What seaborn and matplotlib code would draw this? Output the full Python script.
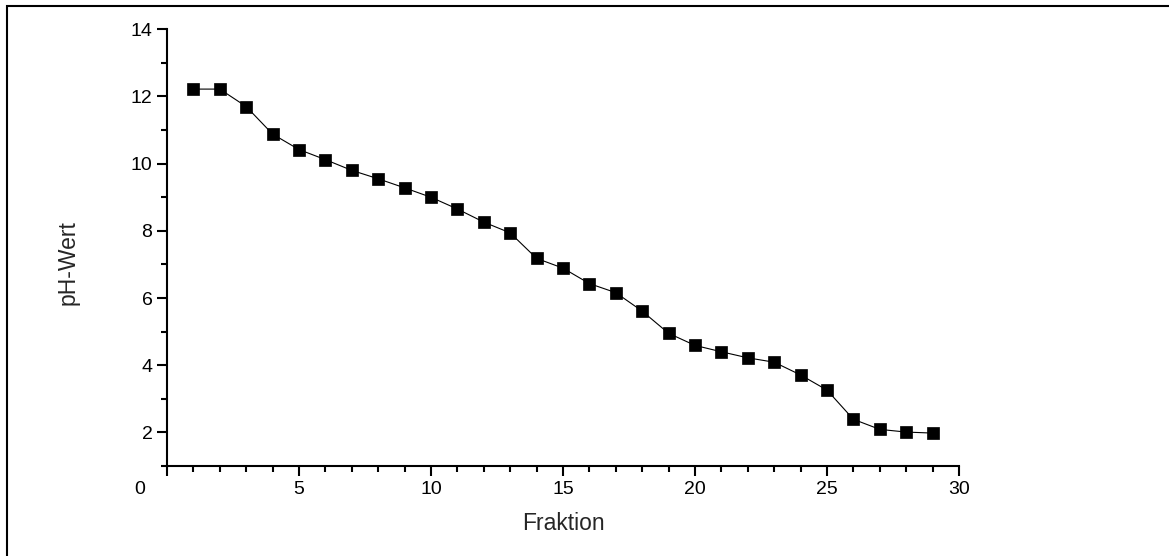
import matplotlib
matplotlib.use('Agg')
import matplotlib.pyplot as plt
import matplotlib.transforms as mtransforms
from matplotlib.patches import Rectangle
from matplotlib.ticker import MultipleLocator
import pandas as pd
import seaborn as sns

# pH value per fraction
fraktion = list(range(1, 30))
ph_wert = [12.22, 12.22, 11.70, 10.88, 10.42, 10.12, 9.80, 9.55, 9.28, 9.00,
           8.65, 8.26, 7.94, 7.18, 6.89, 6.43, 6.16, 5.61, 4.95, 4.59,
           4.40, 4.22, 4.09, 3.71, 3.26, 2.39, 2.09, 2.01, 1.98]

x_ticks = [0, 5, 10, 15, 20, 25, 30]
y_ticks = [2, 4, 6, 8, 10, 12, 14]

sns.set_style('ticks')
plt.rcParams['font.family'] = ['Liberation Sans', 'DejaVu Sans']

W, H = 1169, 556
fig = plt.figure(figsize=(W / 100, H / 100), dpi=100)
ax = fig.add_axes([167 / W, 1 - 466 / H, (959 - 167) / W, (466 - 29.3) / H])

df = pd.DataFrame({'Fraktion': fraktion, 'pH-Wert': ph_wert})
sns.lineplot(data=df, x='Fraktion', y='pH-Wert', ax=ax, color='black',
             linewidth=0.8, marker='s', markersize=8.5, markeredgewidth=0.5,
             markeredgecolor='black', markerfacecolor='black')

ax.set_xlim(0, 30)
ax.set_ylim(1, 14)
ax.set_xticks(x_ticks)
ax.set_yticks(y_ticks)
ax.xaxis.set_minor_locator(MultipleLocator(1))
ax.yaxis.set_minor_locator(MultipleLocator(1))

sns.despine(ax=ax)
for side in ['left', 'bottom']:
    ax.spines[side].set_linewidth(1.5)
    ax.spines[side].set_color('black')

ax.tick_params(which='major', direction='out', length=7.5, width=1.5,
               labelsize=14, colors='black', pad=3)
ax.tick_params(which='minor', direction='out', length=4.5, width=1.5,
               colors='black')

# shift the "0" label left like the original
offset = mtransforms.ScaledTranslation(-27 / 100, 0, fig.dpi_scale_trans)
first = ax.xaxis.get_majorticklabels()[0]
first.set_transform(first.get_transform() + offset)

ax.set_xlabel('')
ax.set_ylabel('')
fig.text(563 / W, 1 - 523 / H, 'Fraktion', ha='center', va='center', fontsize=16.5)
fig.text(68 / W, 1 - 263 / H, 'pH-Wert', ha='center', va='center',
         rotation=90, fontsize=16.5)

# outer frame (only top/left edges show in the picture)
fig.patches.append(Rectangle((7 / W, -0.1), 1.2, 1.1 - 6 / H,
                             transform=fig.transFigure, fill=False,
                             linewidth=1.5, edgecolor='black'))

fig.savefig('out.png', dpi=100)
